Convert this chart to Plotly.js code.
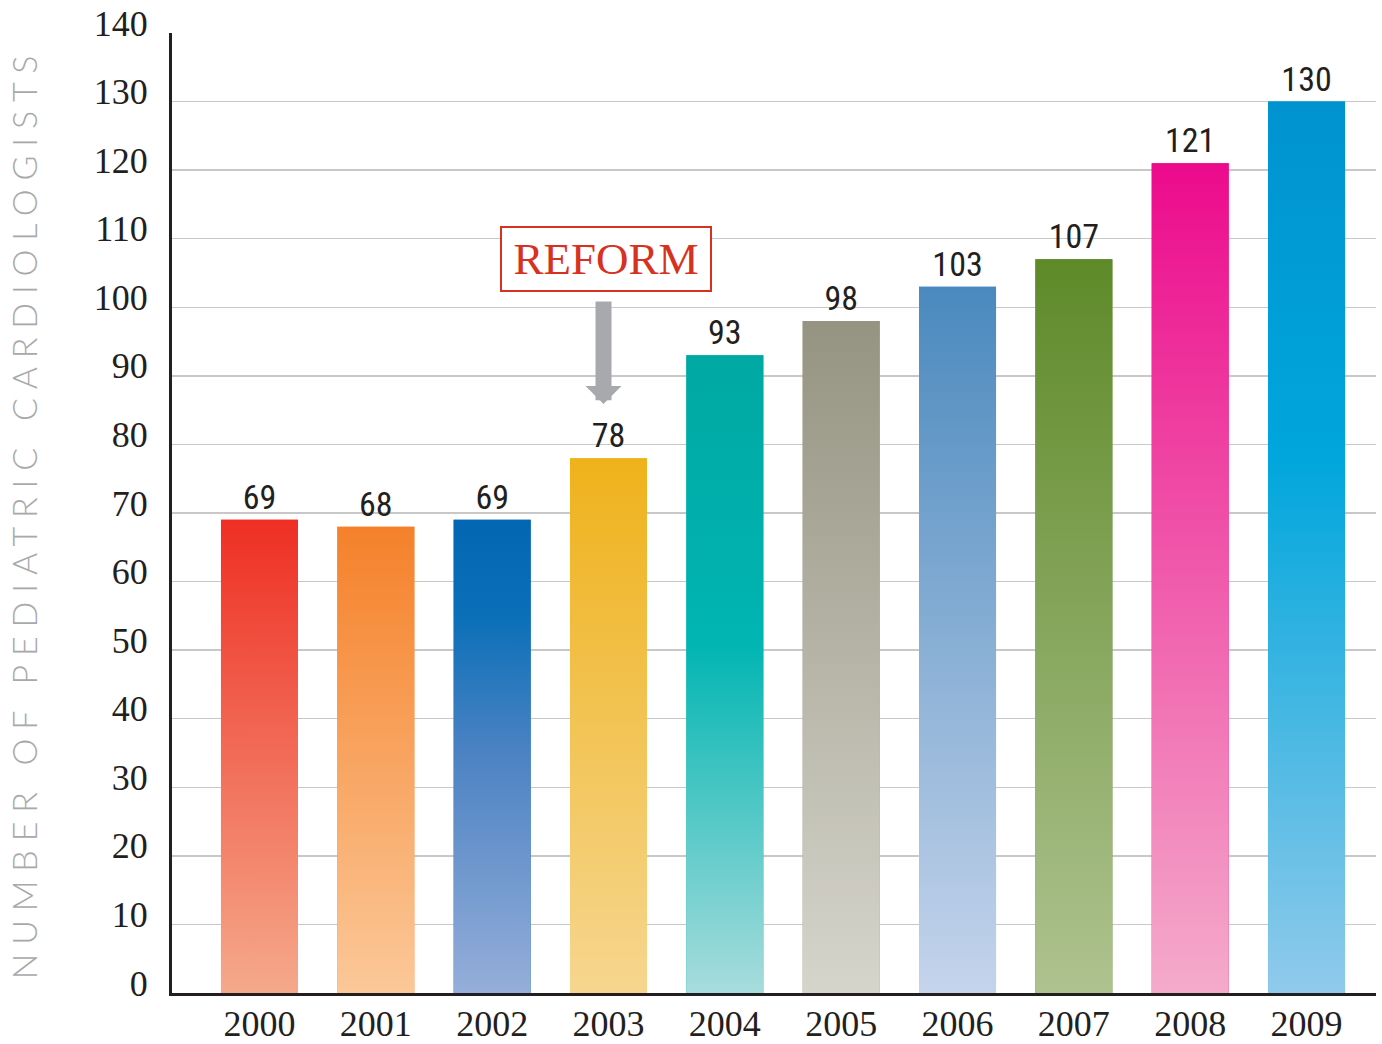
<!DOCTYPE html>
<html>
<head>
<meta charset="utf-8">
<script src="https://cdn.plot.ly/plotly-3.0.1.min.js"></script>
<style>
  html, body { margin: 0; padding: 0; background: #ffffff; }
  #chart { width: 1382px; height: 1044px; }
</style>
</head>
<body>
<div id="chart"></div>
<script>
// ---- data ----
const years = [2000, 2001, 2002, 2003, 2004, 2005, 2006, 2007, 2008, 2009];
const yearLabels = ['2000', '2001', '2002', '2003', '2004', '2005', '2006', '2007', '2008', '2009'];
const cardiologists = [69, 68, 69, 78, 93, 98, 103, 107, 121, 130];
const yTicks = [0, 10, 20, 30, 40, 50, 60, 70, 80, 90, 100, 110, 120, 130, 140];

// ---- style (gradient bottom -> top per bar) ----
const gradients = [
  [[0, '#f5a98b'], [1, '#ee2f24']],
  [[0, '#fbc898'], [1, '#f5812a']],
  [[0, '#95aed9'], [0.5, '#4d83c3'], [0.8, '#0a6fb8'], [1, '#0366b2']],
  [[0, '#f6d68f'], [1, '#efb21b']],
  [[0, '#a8dcdc'], [0.55, '#00b5b2'], [1, '#00a8a3']],
  [[0, '#d6d5cc'], [1, '#959381']],
  [[0, '#c5d4eb'], [1, '#4a89be']],
  [[0, '#aec28f'], [1, '#5e8a29']],
  [[0, '#f4abcb'], [1, '#ec0a8c']],
  [[0, '#90caeb'], [0.6, '#00a6dc'], [1, '#0093d0']]
];
const BAR_W = 0.662;

const traces = [];
// base bar trace (data + value labels)
traces.push({
  type: 'bar',
  x: years,
  y: cardiologists,
  width: BAR_W,
  marker: { color: gradients.map(g => g[Math.floor(g.length / 2)][1]), line: { width: 0 } },
  text: cardiologists.map(String),
  textposition: 'outside',
  cliponaxis: false,
  textfont: { family: '"Liberation Sans Narrow", "Arial Narrow", "Roboto Condensed", sans-serif', size: 34, color: '#231f20' },
  hoverinfo: 'x+y',
  showlegend: false
});
// gradient overlays built from the same data
years.forEach((yr, i) => {
  const v = cardiologists[i];
  traces.push({
    type: 'scatter',
    mode: 'lines',
    x: [yr - BAR_W / 2, yr - BAR_W / 2, yr + BAR_W / 2, yr + BAR_W / 2, yr - BAR_W / 2],
    y: [0, v, v, 0, 0],
    fill: 'toself',
    fillgradient: { type: 'vertical', start: 0, stop: v, colorscale: gradients[i] },
    line: { width: 0, color: 'rgba(0,0,0,0)' },
    hoverinfo: 'skip',
    showlegend: false
  });
});

const layout = {
  width: 1382,
  height: 1044,
  margin: { l: 172, r: 6, t: 33, b: 51, pad: 0 },
  paper_bgcolor: '#ffffff',
  plot_bgcolor: '#ffffff',
  showlegend: false,
  xaxis: {
    range: [1999.248, 2009.597],
    tickvals: years,
    ticktext: yearLabels,
    showgrid: false,
    zeroline: false,
    showline: true,
    linecolor: '#231f20',
    linewidth: 3,
    ticks: '',
    ticklabelstandoff: -3,
    tickfont: { family: '"Liberation Serif", "Times New Roman", serif', size: 36, color: '#231f20' },
    fixedrange: true
  },
  yaxis: {
    range: [0, 140],
    tickvals: yTicks,
    ticktext: yTicks.map(String),
    showgrid: true,
    gridcolor: '#c8c8c8',
    gridwidth: 1.5,
    zeroline: false,
    showline: true,
    linecolor: '#231f20',
    linewidth: 3,
    ticks: '',
    ticklabelstandoff: 14,
    ticklabelshift: -10,
    tickfont: { family: '"Liberation Serif", "Times New Roman", serif', size: 36, color: '#231f20' },
    title: {
      text: 'NUMBER OF PEDIATRIC CARDIOLOGISTS',
      font: { family: 'Lato, "Open Sans", sans-serif', size: 34, color: '#a7a9ac', weight: 300 },
      standoff: 46
    },
    fixedrange: true
  },
  annotations: [
    {
      xref: 'x', yref: 'y',
      x: 2003, y: 107,
      xshift: -3,
      text: 'REFORM',
      showarrow: false,
      font: { family: '"Liberation Serif", "Times New Roman", serif', size: 45, color: '#d7311f' },
      bgcolor: '#ffffff',
      bordercolor: '#d7311f',
      borderwidth: 2,
      borderpad: 0,
      width: 208,
      height: 62,
      xanchor: 'center',
      yanchor: 'middle'
    },
    {
      xref: 'x', yref: 'y',
      x: 2003, y: 85.9,
      xshift: -5,
      text: '',
      showarrow: true,
      arrowhead: 1,
      arrowwidth: 16,
      arrowsize: 0.375,
      arrowcolor: '#a7a9ac',
      ax: 0,
      ay: -104,
      standoff: 0,
      startstandoff: 0
    }
  ]
};

Plotly.newPlot('chart', traces, layout, { staticPlot: true, displayModeBar: false }).then(() => {
  const t = document.querySelector('.ytitle');
  if (t) { t.style.letterSpacing = '8.8px'; }
});
</script>
</body>
</html>
